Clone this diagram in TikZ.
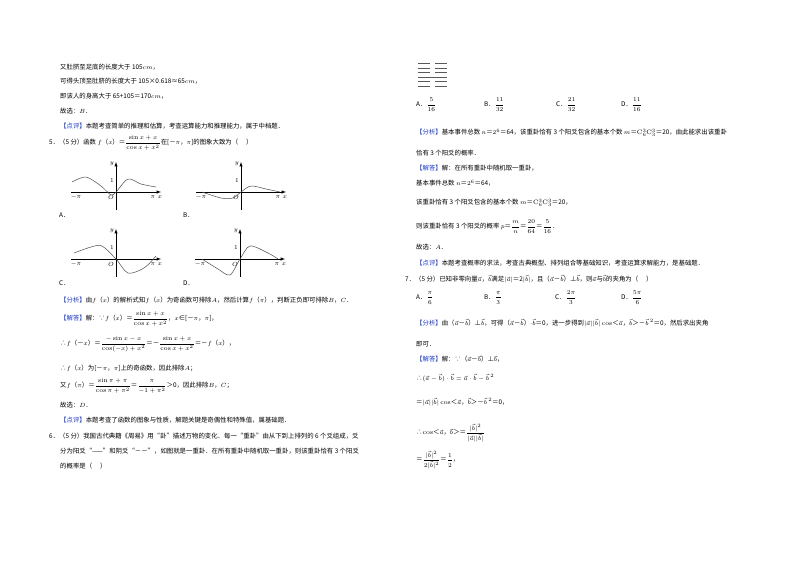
\documentclass[tikz,border=0pt]{standalone}
\usepackage{fontspec}
\usepackage{amsmath}
\newfontfamily\cjk{Noto Sans CJK SC}
\definecolor{tagblue}{RGB}{30,60,200}
\begin{document}
\begin{tikzpicture}[x=1pt,y=-1pt,
  t/.style={anchor=west,inner sep=0pt,font=\cjk\fontsize{6.4}{7}\selectfont},
  ax/.style={-latex,line width=0.5pt},
  cv/.style={line width=0.5pt,gray!60!black},
  lb/.style={inner sep=0pt,font=\fontsize{6}{7}\selectfont}]
\useasboundingbox[fill=white] (0,0) rectangle (800,565);
% left column
\node[t] (l1) at (60,67) {又肚脐至足底的长度大于 105$cm$，};
\node[t] (l2) at (60,81) {可得头顶至肚脐的长度大于 105×0.618≈65$cm$，};
\node[t] (l3) at (60,96) {即该人的身高大于 65+105＝170$cm$，};
\node[t] (l4) at (60,111) {故选：$B$．};
\node[t] (l5) at (60,126) {\textcolor{tagblue}{【点评】}本题考查简单的推理和估算，考查运算能力和推理能力，属于中档题．};
\node[t] (l6) at (49,143) {5．（5 分）函数 $f$（$x$）＝$\dfrac{\sin x+x}{\cos x+x^2}$在[－$\pi$，$\pi$]的图象大致为（\quad\ ）};
% graphs
\foreach \ox/\oy in {116/192,241/192,116/259,240/259}{
  \draw[ax] (\ox-45,\oy) -- (\ox+45,\oy);
  \draw[ax] (\ox,\oy+18) -- (\ox,\oy-30);
  \node[lb] at (\ox-40,\oy+5) {$-\pi$};
  \node[lb] at (\ox+37,\oy+5) {$\pi$};
  \node[lb] at (\ox+44,\oy+5) {$x$};
  \node[lb] at (\ox-5,\oy+5) {$O$};
  \node[lb] at (\ox-4,\oy-28) {$y$};
  \node[lb] at (\ox-4,\oy-11) {1};
}
\draw[cv] plot[smooth] coordinates {(116-44,192-10) (116-30,192-15) (116-15,192-6) (116-5,192+3) (116,192) (116+12,192-13) (116+25,192-8) (116+40,192-5)};
\draw[cv] plot[smooth] coordinates {(241-39,192) (241-20,192+6) (241-8,192+6) (241,192) (241+10,192-6) (241+25,192-3) (241+39,192)};
\draw[cv] plot[smooth] coordinates {(116-42,259-6) (116-25,259-12) (116-14,259-13) (116,259) (116+12,259+14) (116+28,259+9) (116+40,259-3)};
\draw[cv] plot[smooth] coordinates {(240-38,259) (240-22,259+10) (240-10,259+16) (240,259) (240+10,259-13) (240+28,259-6) (240+38,259)};
\node[t] (gA) at (59,215) {A．};
\node[t] (gB) at (183,215) {B．};
\node[t] (gC) at (59,283) {C．};
\node[t] (gD) at (183,283) {D．};
\node[t] (l7) at (60,300) {\textcolor{tagblue}{【分析】}由$f$（$x$）的解析式知$f$（$x$）为奇函数可排除$A$，然后计算$f$（$\pi$），判断正负即可排除$B$，$C$．};
\node[t] (l8) at (60,319) {\textcolor{tagblue}{【解答】}解：∵$f$（$x$）＝$\dfrac{\sin x+x}{\cos x+x^2}$，$x$∈[－$\pi$，$\pi$]，};
\node[t] (l9) at (60,344) {∴$f$（－$x$）＝$\dfrac{-\sin x-x}{\cos(-x)+x^2}$＝－$\dfrac{\sin x+x}{\cos x+x^2}$＝－$f$（$x$），};
\node[t] (l10) at (60,368) {∴$f$（$x$）为[－$\pi$，$\pi$]上的奇函数，因此排除$A$；};
\node[t] (l11) at (60,386) {又$f$（$\pi$）＝$\dfrac{\sin\pi+\pi}{\cos\pi+\pi^2}$＝$\dfrac{\pi}{-1+\pi^2}$＞0，因此排除$B$，$C$；};
\node[t] (l12) at (60,405) {故选：$D$．};
\node[t] (l13) at (60,420) {\textcolor{tagblue}{【点评】}本题考查了函数的图象与性质，解题关键是奇偶性和特殊值，属基础题．};
\node[t] (l14) at (49,436) {6．（5 分）我国古代典籍《周易》用“卦”描述万物的变化．每一“重卦”由从下到上排列的 6 个爻组成，爻};
\node[t] (l15) at (60,451) {分为阳爻“——”和阴爻“－－”，如图就是一重卦．在所有重卦中随机取一重卦，则该重卦恰有 3 个阳爻};
\node[t] (l16) at (60,466) {的概率是（\quad\ ）};
% right column: hexagram
\foreach \yy/\full in {63/0,68/0,72/0,77/1,81/0,86/0}{
  \ifnum\full=1 \draw[line width=0.7pt,gray!70!black] (418,\yy) -- (447,\yy);
  \else \draw[line width=0.7pt,gray!70!black] (418,\yy) -- (430,\yy) (435,\yy) -- (447,\yy); \fi
}
\node[t] (r1) at (416,105) {A．$\dfrac{5}{16}$};
\node[t] (r2) at (484,105) {B．$\dfrac{11}{32}$};
\node[t] (r3) at (556,105) {C．$\dfrac{21}{32}$};
\node[t] (r4) at (621,105) {D．$\dfrac{11}{16}$};
\node[t] (r5) at (416,133) {\textcolor{tagblue}{【分析】}基本事件总数 $n$＝$2^6$＝64，该重卦恰有 3 个阳爻包含的基本个数 $m$＝$\mathrm{C}_6^3\mathrm{C}_3^3$＝20，由此能求出该重卦};
\node[t] (r6) at (416,153) {恰有 3 个阳爻的概率．};
\node[t] (r7) at (416,168) {\textcolor{tagblue}{【解答】}解：在所有重卦中随机取一重卦，};
\node[t] (r8) at (416,183) {基本事件总数 $n$＝$2^6$＝64，};
\node[t] (r9) at (416,203) {该重卦恰有 3 个阳爻包含的基本个数 $m$＝$\mathrm{C}_6^3\mathrm{C}_3^3$＝20，};
\node[t] (r10) at (416,227) {则该重卦恰有 3 个阳爻的概率 $p$＝$\dfrac{m}{n}$＝$\dfrac{20}{64}$＝$\dfrac{5}{16}$．};
\node[t] (r11) at (416,247) {故选：$A$．};
\node[t] (r12) at (416,263) {\textcolor{tagblue}{【点评】}本题考查概率的求法，考查古典概型、排列组合等基础知识，考查运算求解能力，是基础题．};
\node[t] (r13) at (405,279) {7．（5 分）已知非零向量$\vec a$，$\vec b$满足$|\vec a|$＝2$|\vec b|$，且（$\vec a$－$\vec b$）⊥$\vec b$，则$\vec a$与$\vec b$的夹角为（\quad\ ）};
\node[t] (r14) at (416,298) {A．$\dfrac{\pi}{6}$};
\node[t] (r15) at (484,298) {B．$\dfrac{\pi}{3}$};
\node[t] (r16) at (555,298) {C．$\dfrac{2\pi}{3}$};
\node[t] (r17) at (621,298) {D．$\dfrac{5\pi}{6}$};
\node[t] (r18) at (416,323) {\textcolor{tagblue}{【分析】}由（$\vec a$－$\vec b$）⊥$\vec b$，可得（$\vec a$－$\vec b$）$\cdot\vec b$＝0，进一步得到$|\vec a||\vec b|\cos$＜$\vec a$，$\vec b$＞－$\vec b^{\,2}$＝0，然后求出夹角};
\node[t] (r19) at (416,344) {即可．};
\node[t] (r20) at (416,359) {\textcolor{tagblue}{【解答】}解：∵（$\vec a$－$\vec b$）⊥$\vec b$，};
\node[t] (r21) at (416,378) {∴$(\vec a-\vec b)\cdot\vec b=\vec a\cdot\vec b-\vec b^{\,2}$};
\node[t] (r22) at (416,402) {＝$|\vec a||\vec b|\cos$＜$\vec a$，$\vec b$＞－$\vec b^{\,2}$＝0，};
\node[t] (r23) at (416,433) {∴$\cos$＜$\vec a$，$\vec b$＞＝$\dfrac{|\vec b|^2}{|\vec a||\vec b|}$};
\node[t] (r24) at (416,460) {＝$\dfrac{|\vec b|^2}{2|\vec b|^2}$＝$\dfrac{1}{2}$，};
\end{tikzpicture}
\end{document}
